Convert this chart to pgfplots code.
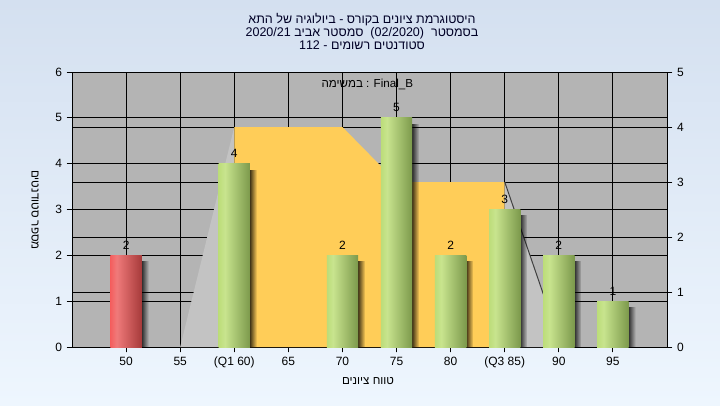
\documentclass[border=0pt]{standalone}
\usepackage{pgfplots}
\pgfplotsset{compat=1.18}
\usepackage{fontspec}
\setmainfont{Liberation Sans}
\newfontfamily\heb[Script=Hebrew]{Liberation Sans}
\usetikzlibrary{fadings}
\TeXXeTstate=1
\newcommand\hw[1]{{\heb\beginR #1\endR}}

\definecolor{bgtop}{RGB}{212,224,240}
\definecolor{bgbot}{RGB}{238,246,254}
\definecolor{plotbg}{RGB}{180,180,180}
\definecolor{wedge}{RGB}{195,195,195}
\definecolor{boxyel}{RGB}{255,205,88}
\definecolor{gA}{RGB}{158,204,70}
\definecolor{gB}{RGB}{200,228,142}
\definecolor{gC}{RGB}{76,106,34}
\definecolor{rA}{RGB}{255,24,24}
\definecolor{rB}{RGB}{240,122,122}
\definecolor{rC}{RGB}{120,18,18}
\pgfdeclarehorizontalshading{greenbar}{100bp}{color(0bp)=(gA); color(35bp)=(gB); color(100bp)=(gC)}
\pgfdeclarehorizontalshading{redbar}{100bp}{color(0bp)=(rA); color(35bp)=(rB); color(100bp)=(rC)}

\pgfplotsset{
  chartbox/.style={
    at={(54pt,43.5pt)}, anchor=south west,
    scale only axis, width=446.25pt, height=206.25pt,
    xmin=45, xmax=100, ymin=0,
    axis line style={-, black, line width=0.75pt},
    tick style={black, line width=0.75pt},
    grid style={black, line width=0.75pt},
    tick align=outside, major tick length=4pt,
    xtick={50,55,...,95},
    /pgf/number format/assume math mode=true,
    tick label style={font=\fontsize{9}{11}\selectfont},
  },
  bar/.style={ybar, bar width=2.9, bar shift=0, draw=none, shading=#1,
    nodes near coords,
    every node near coord/.style={font=\fontsize{9}{11}\selectfont, black, anchor=south, yshift=1pt}},
  shadow/.style={ybar, bar width=0.65, bar shift=1.77, draw=none,
    fill=black, fill opacity=0.75, path fading=east},
}

\begin{document}
\begin{tikzpicture}[x=1pt,y=1pt]
\shade[top color=bgtop, bottom color=bgbot] (0,0) rectangle (540,303.75);

% right-hand scale, background and grid
\begin{axis}[chartbox,
    ymax=5, ytick={0,...,5},
    axis x line*=bottom, axis y line*=right,
    xticklabels={},
    xmajorgrids, ymajorgrids,
    axis background/.style={fill=plotbg},
  ]
\end{axis}

% left-hand scale and the data
\begin{axis}[chartbox,
    ymax=6, ytick={0,...,6},
    axis x line*=bottom, axis y line*=left,
    ymajorgrids,
    xticklabels={50,55,(Q1 60),65,70,75,80,(Q3 85),90,95},
  ]
  % box of the distribution (right scale values times 6/5)
  \addplot[fill=wedge, draw=none] coordinates {(55,0) (60,4.8) (60,0)} -- cycle;
  \addplot[fill=boxyel, draw=none] coordinates {(60,0) (60,4.8) (70,4.8) (75,3.6) (85,3.6) (85,0)} -- cycle;
  \addplot[fill=wedge, draw=none] coordinates {(85,0) (85,3.6) (90.25,0)} -- cycle;
  \addplot[draw=black!75, line width=0.75pt] coordinates {(85,3.6) (90.25,0)};

  % shadows, one plot per bar so that each fades on its own
  \addplot[shadow] coordinates {(50,1.87)};
  \addplot[shadow] coordinates {(60,3.87)};
  \addplot[shadow] coordinates {(70,1.87)};
  \addplot[shadow] coordinates {(75,4.87)};
  \addplot[shadow] coordinates {(80,1.87)};
  \addplot[shadow] coordinates {(85,2.87)};
  \addplot[shadow] coordinates {(90,1.87)};
  \addplot[shadow] coordinates {(95,0.87)};

  % bars
  \addplot[bar=redbar] coordinates {(50,2)};
  \addplot[bar=greenbar] coordinates {(60,4)};
  \addplot[bar=greenbar] coordinates {(70,2)};
  \addplot[bar=greenbar] coordinates {(75,5)};
  \addplot[bar=greenbar] coordinates {(80,2)};
  \addplot[bar=greenbar] coordinates {(85,3)};
  \addplot[bar=greenbar] coordinates {(90,2)};
  \addplot[bar=greenbar] coordinates {(95,1)};

  \node[font=\fontsize{8.7}{10}\selectfont] at (axis cs:72.3,5.72) {\hw{במשימה} : Final\_B};
\end{axis}

% titles and axis labels
\node[align=center, font=\fontsize{9.4}{9.75}\selectfont, text=black!85!blue] at (271.5,280.5)
  {\hw{היסטוגרמת ציונים בקורס - ביולוגיה של התא}\\
   \hw{בסמסטר\ \ (02/2020)\ \ סמסטר אביב 2020/21}\\
   \hw{סטודנטים רשומים - 112}};
\node[font=\fontsize{8.7}{10}\selectfont] at (276,18) {\hw{טווח ציונים}};
\node[font=\fontsize{8.7}{10}\selectfont, rotate=-90] at (26.25,146.25) {\hw{מספר סטודנטים}};
\end{tikzpicture}
\end{document}
